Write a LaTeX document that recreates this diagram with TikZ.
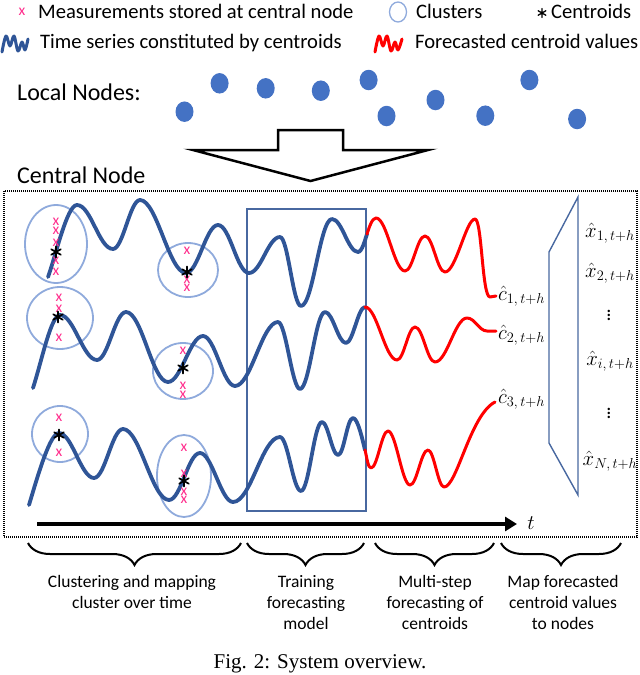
\documentclass[tikz,border=0pt]{standalone}
\usepackage{fontspec}
\setmainfont{Carlito}
\newfontfamily\capfont{Liberation Serif}
\newcommand\lblsub[1]{\mbox{\fontsize{15}{15}\selectfont$#1$}}
\usetikzlibrary{arrows.meta,decorations.pathreplacing,shapes.geometric}
\definecolor{curveblue}{RGB}{47,85,151}
\definecolor{nodeblue}{RGB}{68,114,196}
\definecolor{clusterblue}{RGB}{143,170,220}
\definecolor{boxblue}{RGB}{72,104,160}
\definecolor{pinkx}{RGB}{255,45,140}
\definecolor{fcred}{RGB}{255,0,0}
\begin{document}
\begin{tikzpicture}[x=1pt,y=-1pt,
  series/.style={curveblue,line width=3.8pt,line cap=round,line join=round},
  fcast/.style={fcred,line width=3pt,line cap=round,line join=round},
  cluster/.style={draw=clusterblue,line width=1.8pt},
  localnode/.style={ellipse,fill=nodeblue,minimum width=18pt,minimum height=20.5pt,inner sep=0pt},
  xm/.style={text=pinkx,font=\fontsize{15.5}{15.5}\selectfont,inner sep=0pt},
  legendtxt/.style={anchor=base west,inner sep=0pt,font=\fontsize{20.6}{24}\selectfont},
  bigtxt/.style={anchor=base west,inner sep=0pt,font=\fontsize{24}{28}\selectfont},
  steplabel/.style={anchor=north,align=center,inner sep=0pt,font=\fontsize{17.5}{21}\selectfont},
  mlabel/.style={inner sep=0pt,font=\fontsize{20}{20}\selectfont},
  bracestyle/.style={decorate,decoration={brace,amplitude=22pt},line width=2pt},
  ast/.pic={\draw[line width=1.7pt,line cap=round] (0,-5.5)--(0,5.5) (-4.8,-2.75)--(4.8,2.75) (-4.8,2.75)--(4.8,-2.75);},
  smallast/.pic={\draw[line width=1.3pt,line cap=round] (0,-4.5)--(0,4.5) (-3.9,-2.25)--(3.9,2.25) (-3.9,2.25)--(3.9,-2.25);}
]
\useasboundingbox (0,0) rectangle (640,675);

% ---------------- legend ----------------
\node[xm] (lgx) at (22,12) {x};
\node[legendtxt] (lg1) at (38,18) {Measurements stored at central node};
\draw[draw=clusterblue,line width=1.3pt] (398,12) ellipse [x radius=8.5, y radius=10];
\node[legendtxt] (lg2) at (416,18) {Clusters};
\pic at (542,13) {smallast};
\node[legendtxt] (lg3) at (551,18) {Centroids};
\draw[series,line width=3pt] plot[smooth,tension=0.6] coordinates {(2,52) (6,36) (10,46) (14,36) (18,51) (22,42) (25,50) (28,39)};
\node[legendtxt] (lg4) at (40,48) {Time series constituted by centroids};
\draw[fcast,line width=3pt] plot[smooth,tension=0.6] coordinates {(375,52) (379,36) (383,46) (387,36) (391,51) (395,42) (398,50) (402,39)};
\node[legendtxt] (lg5) at (415,48) {Forecasted centroid values};

% ---------------- local nodes ----------------
\node[bigtxt] (localtxt) at (17,100) {Local Nodes:};
\node[localnode] (n1) at (184.5,111.7) {};
\node[localnode] (n2) at (219.6,83.3) {};
\node[localnode] (n3) at (265.7,88.3) {};
\node[localnode] (n4) at (320.8,90.7) {};
\node[localnode] (n5) at (368.6,80) {};
\node[localnode] (n6) at (386.5,116) {};
\node[localnode] (n7) at (435.5,100) {};
\node[localnode] (n8) at (485.3,115.7) {};
\node[localnode] (n9) at (529.4,80) {};
\node[localnode] (n10) at (577.1,119) {};

% big block arrow
\draw[line width=2.5pt,line join=miter] (278,130) -- (343,130) -- (343,150) -- (428,150) -- (310.5,181) -- (193,150) -- (278,150) -- cycle;

% ---------------- central node ----------------
\node[bigtxt] (centraltxt) at (17,183) {Central Node};
\draw[line width=1.2pt,dash pattern=on 1pt off 1pt] (4,191) rectangle (637,537);

% training box and mapping trapezoid
\draw[boxblue,line width=1.3pt] (247,209) rectangle (366,511);
\draw[boxblue,line width=1.4pt,line join=miter] (578,197) -- (549,252) -- (549,443) -- (578,495) -- cycle;

% clusters
\draw[cluster] (56,244) ellipse [x radius=31, y radius=39];
\draw[cluster] (188,270) ellipse [x radius=30, y radius=27];
\draw[cluster] (60,318) ellipse [x radius=33, y radius=31];
\draw[cluster] (183,371) ellipse [x radius=30, y radius=28];
\draw[cluster] (60,434) ellipse [x radius=28, y radius=28];
\draw[cluster] (184,476) ellipse [x radius=27, y radius=41];

% row 1 series
\draw[series] (48,277) .. controls (56,255) and (67,205) .. (77,205)
  .. controls +(14,0) and +(-14,0) .. (113,249)
  .. controls +(10,0) and +(-10,0) .. (140,200)
  .. controls +(17,0) and +(-17,0) .. (186,273)
  .. controls +(12,0) and +(-12,0) .. (218,225)
  .. controls +(12,0) and +(-12,0) .. (249,273)
  .. controls +(12,0) and +(-12,0) .. (280,237)
  .. controls +(8,0) and +(-8,0) .. (301,306)
  .. controls +(12,0) and +(-12,0) .. (332,219)
  .. controls +(10,0) and +(-10,0) .. (358,252)
  .. controls +(4,0) and +(-2,6) .. (367,234);
\draw[fcast] (367,234) .. controls +(2,-6) and +(-4,0) .. (376,218)
  .. controls +(11,0) and +(-11,0) .. (405,271)
  .. controls +(8,0) and +(-8,0) .. (425,236)
  .. controls +(8,0) and +(-8,0) .. (445,272)
  .. controls +(11,0) and +(-9,0) .. (475,219)
  .. controls (482,219) and (482,297) .. (490,297) -- (496,296);

% row 2 series
\draw[series] (33,388) .. controls (42,360) and (51,315) .. (60,315)
  .. controls +(14,0) and +(-14,0) .. (97,360)
  .. controls +(11,0) and +(-11,0) .. (126,312)
  .. controls +(16,0) and +(-16,0) .. (168,382)
  .. controls +(13,0) and +(-13,0) .. (203,336)
  .. controls +(12,0) and +(-12,0) .. (235,386)
  .. controls +(16,0) and +(-16,0) .. (278,322)
  .. controls +(8,0) and +(-8,0) .. (300,389)
  .. controls +(9.5,0) and +(-9.5,0) .. (325,312)
  .. controls +(8,0) and +(-8,0) .. (346,343)
  .. controls +(7,0) and +(-7,0) .. (365,307);
\draw[fcast] (365,307) .. controls +(12,0) and +(-12,0) .. (397,360)
  .. controls +(7,0) and +(-7,0) .. (415,327)
  .. controls +(8,0) and +(-8,0) .. (435,362)
  .. controls +(12,0) and +(-12,0) .. (467,318)
  .. controls +(8,0) and +(-8,0) .. (487,331) -- (496,331);

% row 3 series
\draw[series] (29,505) .. controls (38,475) and (50,433) .. (59,433)
  .. controls +(13,0) and +(-13,0) .. (94,478)
  .. controls +(11,0) and +(-11,0) .. (123,429)
  .. controls +(17,0) and +(-17,0) .. (169,500)
  .. controls +(12,0) and +(-12,0) .. (200,453)
  .. controls +(12,0) and +(-12,0) .. (233,502)
  .. controls +(18,0) and +(-18,0) .. (280,437)
  .. controls +(8,0) and +(-8,0) .. (301,491)
  .. controls +(8,0) and +(-8,0) .. (322,422)
  .. controls +(6,0) and +(-6,0) .. (338,455)
  .. controls +(6,0) and +(-6,0) .. (353,418)
  .. controls +(5,0) and +(-2,-8) .. (365,450);
\draw[fcast] (365,450) .. controls +(2,8) and +(-3,0) .. (371,468)
  .. controls +(6.5,0) and +(-6.5,0) .. (388,431)
  .. controls +(8,0) and +(-8,0) .. (410,485)
  .. controls +(7,0) and +(-7,0) .. (428,450)
  .. controls +(6,0) and +(-6,0) .. (444,487)
  .. controls (457,487) and (470,415) .. (495,402);

% measurement marks
\node[xm] (m1) at (56,222) {x};
\node[xm] (m2) at (56,231) {x};
\node[xm] (m3) at (56,243) {x};
\node[xm] (m4) at (56,261) {x};
\node[xm] (m5) at (56,272) {x};
\node[xm] (m6) at (187,251) {x};
\node[xm] (m7) at (187,280) {x};
\node[xm] (m8) at (187,288) {x};
\node[xm] (m9) at (59,298) {x};
\node[xm] (m10) at (59,309) {x};
\node[xm] (m11) at (59,338) {x};
\node[xm] (m12) at (183,351) {x};
\node[xm] (m13) at (183,386) {x};
\node[xm] (m14) at (183,395) {x};
\node[xm] (m15) at (59,418) {x};
\node[xm] (m16) at (59,453) {x};
\node[xm] (m17) at (184,448) {x};
\node[xm] (m18) at (184,474) {x};
\node[xm] (m19) at (184,492) {x};
\node[xm] (m20) at (184,500) {x};

% centroids
\pic at (56,252) {ast};
\pic at (187,272) {ast};
\pic at (58,317) {ast};
\pic at (183,368) {ast};
\pic at (59,435) {ast};
\pic at (184,481) {ast};

% forecast labels
\node[mlabel,anchor=base west] (c1) at (498,300) {$\hat{c}_{\lblsub{1,t{+}h}}$};
\node[mlabel,anchor=base west] (c2) at (498,339) {$\hat{c}_{\lblsub{2,t{+}h}}$};
\node[mlabel,anchor=base west] (c3) at (498,403) {$\hat{c}_{\lblsub{3,t{+}h}}$};

% node values
\node[mlabel,anchor=base] (x1) at (610,237) {$\hat{x}_{\lblsub{1,t{+}h}}$};
\node[mlabel,anchor=base] (x2) at (610,277) {$\hat{x}_{\lblsub{2,t{+}h}}$};
\node[mlabel] (d1) at (609,312) {$\vdots$};
\node[mlabel,anchor=base] (xi) at (610,365) {$\hat{x}_{\lblsub{i,t{+}h}}$};
\node[mlabel] (d2) at (609,410) {$\vdots$};
\node[mlabel,anchor=base] (xn) at (610,465) {$\hat{x}_{\lblsub{N,t{+}h}}$};

% time axis
\coordinate (ax0) at (37,524);
\coordinate (ax1) at (517,524);
\draw[line width=3.5pt,-{Triangle[length=12pt,width=14pt]}] (ax0) -- (ax1);
\node[mlabel] (tlab) at (531,523) {$t$};

% braces
\draw[bracestyle] (241,543) -- (28,543);
\draw[bracestyle] (364,543) -- (247,543);
\draw[bracestyle] (494,543) -- (375,543);
\draw[bracestyle] (621,543) -- (501,543);

\node[steplabel] (s1) at (132,575) {Clustering and mapping\\cluster over time};
\node[steplabel] (s2) at (306,575) {Training\\forecasting\\model};
\node[steplabel] (s3) at (435,575) {Multi-step\\forecasting of\\centroids};
\node[steplabel] (s4) at (563,575) {Map forecasted\\centroid values\\to nodes};

\node[anchor=base,inner sep=0pt,font=\capfont\fontsize{21}{24}\selectfont] (cap) at (320,668) {Fig. 2: System overview.};
\end{tikzpicture}
\end{document}
